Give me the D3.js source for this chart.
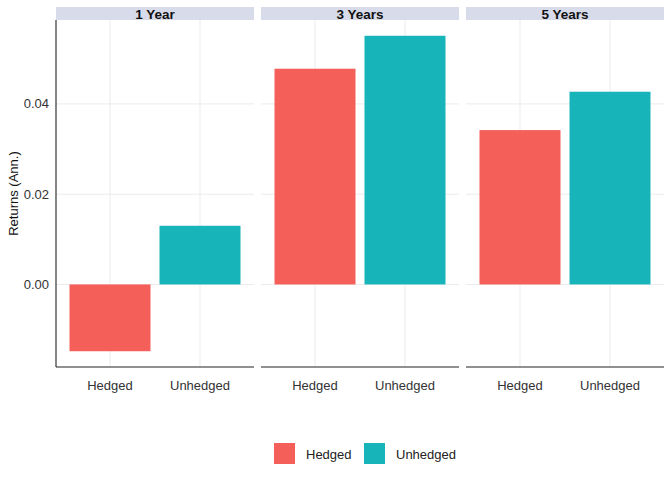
<!DOCTYPE html>
<html>
<head>
<meta charset="utf-8">
<script src="https://cdn.jsdelivr.net/npm/d3@7"></script>
<style>
  body { margin: 0; background: #fff; }
  text { font-family: "Liberation Sans", Arial, sans-serif; }
</style>
</head>
<body>
<svg id="chart" width="672" height="480"></svg>
<script>
const periods = ["1 Year", "3 Years", "5 Years"];
const types = ["Hedged", "Unhedged"];
const hedged = [-0.0148, 0.0478, 0.0342];
const unhedged = [0.0130, 0.0551, 0.0427];
const yTicks = [0, 0.02, 0.04];
const colors = ["#F45F5A", "#17B4B9"];

const rows = [];
periods.forEach((p, i) => {
    rows.push({ period: p, type: "Hedged", value: hedged[i] });
    rows.push({ period: p, type: "Unhedged", value: unhedged[i] });
});

const svg = d3.select("#chart");

const panelW = 198, gap = 7, left = 56;
const plotTop = 20, plotBottom = 367;

const fx = d3.scaleBand().domain(periods)
    .range([left, left + 3 * panelW + 2 * gap])
    .paddingInner(gap / (panelW + gap));

const allVals = hedged.concat(unhedged);
const lo = d3.min(allVals), hi = d3.max(allVals);
const pad = (hi - lo) * 0.05;
const y = d3.scaleLinear().domain([lo - pad, hi + pad]).range([plotBottom, plotTop]);

const color = d3.scaleOrdinal().domain(types).range(colors);

// discrete axis with 0.6 expansion on each side, like ggplot
const x = d3.scaleLinear().domain([0.4, types.length + 0.6]).range([0, panelW]);
const xc = t => x(types.indexOf(t) + 1);
const barW = x(1.9) - x(1);

periods.forEach((p, i) => {
    const g = svg.append("g").attr("transform", `translate(${fx(p)},0)`);

    // strip
    g.append("rect").attr("x", 0).attr("y", 7).attr("width", panelW).attr("height", 13)
        .attr("fill", "#D8DBEA");
    g.append("text").attr("x", panelW / 2).attr("y", 19)
        .attr("text-anchor", "middle").attr("font-size", 13.5).attr("font-weight", "bold")
        .attr("fill", "#111").text(p);

    // grid
    g.selectAll(".hg").data(yTicks).enter().append("line")
        .attr("x1", 0).attr("x2", panelW)
        .attr("y1", d => y(d)).attr("y2", d => y(d))
        .attr("stroke", "#EBEBEB").attr("stroke-width", 1);
    g.selectAll(".vg").data(types).enter().append("line")
        .attr("x1", d => xc(d)).attr("x2", d => xc(d))
        .attr("y1", plotTop).attr("y2", plotBottom)
        .attr("stroke", "#EBEBEB").attr("stroke-width", 1);

    // bars
    g.selectAll(".bar").data(rows.filter(r => r.period === p)).enter().append("rect")
        .attr("x", d => xc(d.type) - barW / 2)
        .attr("width", barW)
        .attr("y", d => y(Math.max(0, d.value)))
        .attr("height", d => Math.abs(y(d.value) - y(0)))
        .attr("fill", d => color(d.type));

    // bottom axis line
    g.append("line").attr("x1", 0).attr("x2", panelW)
        .attr("y1", plotBottom).attr("y2", plotBottom)
        .attr("stroke", "#222").attr("stroke-width", 1.1);

    g.selectAll(".xl").data(types).enter().append("text")
        .attr("x", d => xc(d)).attr("y", 390)
        .attr("text-anchor", "middle").attr("font-size", 13)
        .attr("fill", "#333").text(d => d);

    if (i === 0) {
        g.append("line").attr("x1", 0).attr("x2", 0)
            .attr("y1", plotTop).attr("y2", plotBottom)
            .attr("stroke", "#222").attr("stroke-width", 1.1);
    }
});

// y tick labels
svg.selectAll(".yl").data(yTicks).enter().append("text")
    .attr("x", 49).attr("y", d => y(d) + 4.5)
    .attr("text-anchor", "end").attr("font-size", 13)
    .attr("fill", "#333").text(d => d3.format(".2f")(d));

svg.append("text")
    .attr("transform", `translate(18,${(plotTop + plotBottom) / 2}) rotate(-90)`)
    .attr("text-anchor", "middle").attr("font-size", 13)
    .attr("fill", "#111").text("Returns (Ann.)");

// legend
const legX = [274, 364];
types.forEach((t, i) => {
    svg.append("rect").attr("x", legX[i]).attr("y", 443).attr("width", 21).attr("height", 21)
        .attr("fill", color(t));
    svg.append("text").attr("x", legX[i] + 32).attr("y", 458.5)
        .attr("font-size", 13).attr("fill", "#222").text(t);
});
</script>
</body>
</html>
